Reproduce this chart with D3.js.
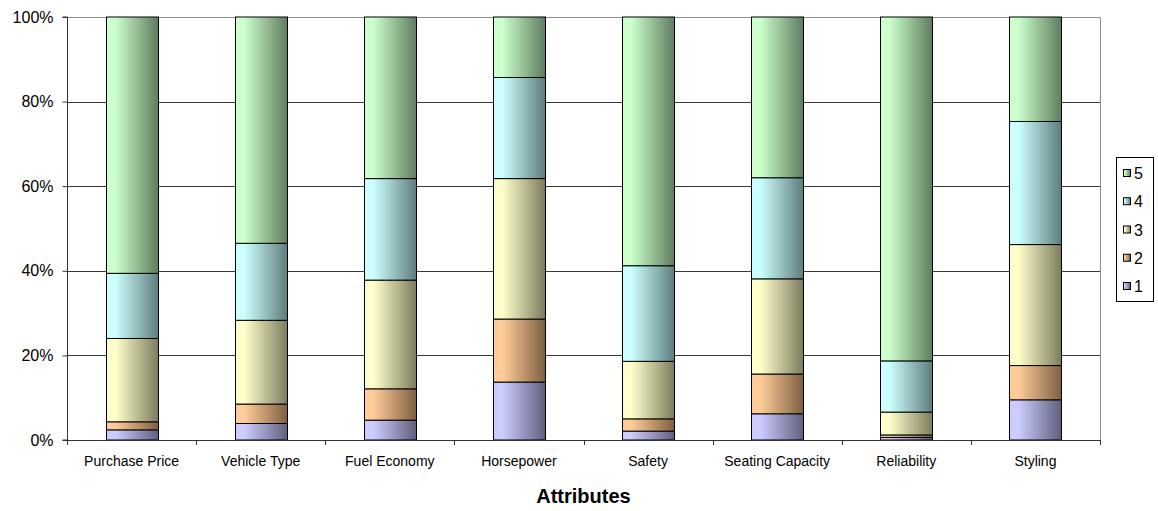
<!DOCTYPE html>
<html>
<head>
<meta charset="utf-8">
<script src="https://cdn.jsdelivr.net/npm/d3@7"></script>
<style>
  html, body { margin: 0; padding: 0; background: #fff; }
  svg { display: block; font-family: Arial, "Liberation Sans", sans-serif; }
</style>
</head>
<body>
<svg id="chart" width="1158" height="511"></svg>
<script>
// Share of respondents giving each rating (1–5) per vehicle attribute, in percent
const categories = ["Purchase Price", "Vehicle Type", "Fuel Economy", "Horsepower",
                    "Safety", "Seating Capacity", "Reliability", "Styling"];
const rating1 = [2.4, 3.9, 4.7, 13.7, 2.1, 6.2, 0.6, 9.5];
const rating2 = [1.9, 4.6, 7.4, 14.9, 2.9, 9.4, 0.6, 8.1];
const rating3 = [19.7, 19.8, 25.7, 33.2, 13.6, 22.5, 5.4, 28.6];
const rating4 = [15.4, 18.2, 24.0, 23.9, 22.6, 23.9, 12.1, 29.1];
const rating5 = [60.6, 53.5, 38.2, 14.3, 58.8, 38.0, 81.3, 24.7];
const seriesNames = ["1", "2", "3", "4", "5"];
const yTicks = [0, 0.2, 0.4, 0.6, 0.8, 1.0];
const xTitle = "Attributes";

// light / dark ends of each series' horizontal gradient
const palette = {
  "1": ["#ccccff", "#5f5f7c"],
  "2": ["#ffcc99", "#7d5f42"],
  "3": ["#ffffcc", "#7c7c5f"],
  "4": ["#ccffff", "#5f7c7c"],
  "5": ["#ccffcc", "#5f7c5f"]
};

const seriesValues = [rating1, rating2, rating3, rating4, rating5];
const rows = categories.map((c, i) => {
  const r = { category: c };
  seriesNames.forEach((s, k) => { r[s] = seriesValues[k][i]; });
  return r;
});

const svg = d3.select("#chart");
const plot = { left: 67, right: 1100, top: 17, bottom: 440 };

const x = d3.scaleBand()
  .domain(categories)
  .range([plot.left, plot.right])
  .paddingInner(0.597)
  .paddingOuter(0.2985);

const y = d3.scaleLinear().domain([0, 1]).range([plot.bottom, plot.top]);

const stack = d3.stack().keys(seriesNames).offset(d3.stackOffsetExpand);
const layers = stack(rows);

// gradients
const defs = svg.append("defs");
seriesNames.forEach(s => {
  const g = defs.append("linearGradient")
    .attr("id", "grad" + s)
    .attr("x1", "0").attr("y1", "0").attr("x2", "1").attr("y2", "0");
  g.append("stop").attr("offset", "0").attr("stop-color", palette[s][0]);
  g.append("stop").attr("offset", "0.17").attr("stop-color", palette[s][0]);
  g.append("stop").attr("offset", "1").attr("stop-color", palette[s][1]);
});

// gridlines
svg.append("g")
  .selectAll("line")
  .data(yTicks.slice(1))
  .join("line")
  .attr("x1", plot.left).attr("x2", plot.right)
  .attr("y1", d => Math.round(y(d)) + 0.5).attr("y2", d => Math.round(y(d)) + 0.5)
  .attr("stroke", "#3a3a3a")
  .attr("stroke-width", 1);

// plot area border (top and right)
svg.append("path")
  .attr("d", `M${plot.left},${plot.top + 0.5}H${plot.right + 0.5}V${plot.bottom}`)
  .attr("fill", "none")
  .attr("stroke", "#8c8c8c")
  .attr("stroke-width", 1);

// bars
svg.append("g")
  .selectAll("g")
  .data(layers)
  .join("g")
  .attr("fill", d => `url(#grad${d.key})`)
  .selectAll("rect")
  .data(d => d.map(v => ({ v, cat: v.data.category })))
  .join("rect")
  .attr("x", d => Math.round(x(d.cat)) + 0.5)
  .attr("width", Math.round(x.bandwidth()))
  .attr("y", d => y(d.v[1]))
  .attr("height", d => y(d.v[0]) - y(d.v[1]))
  .attr("stroke", "#000")
  .attr("stroke-width", 1);

// y axis
const yAxis = d3.axisLeft(y)
  .tickValues(yTicks)
  .tickFormat(d3.format(".0%"))
  .tickSize(5)
  .tickPadding(9);
const gy = svg.append("g")
  .attr("transform", `translate(${plot.left + 0.5},0)`)
  .call(yAxis);
gy.select(".domain").attr("stroke", "#333").attr("d", `M-5,${plot.top}H0V${plot.bottom}H-5`);
gy.selectAll(".tick line").attr("stroke", "#333");
gy.selectAll("text").attr("font-size", "16px").attr("fill", "#000")
  .attr("font-family", "Arial, 'Liberation Sans', sans-serif");

// x axis: ticks at category boundaries
const boundaries = categories.map(c => x(c) - x.step() * x.paddingInner() / 2).concat([plot.right]);
const gx = svg.append("g");
gx.append("line")
  .attr("x1", plot.left).attr("x2", plot.right + 0.5)
  .attr("y1", plot.bottom + 0.5).attr("y2", plot.bottom + 0.5)
  .attr("stroke", "#333");
gx.selectAll("line.tick")
  .data(boundaries)
  .join("line")
  .attr("class", "tick")
  .attr("x1", d => Math.round(d) + 0.5).attr("x2", d => Math.round(d) + 0.5)
  .attr("y1", plot.bottom).attr("y2", plot.bottom + 5)
  .attr("stroke", "#333");
gx.selectAll("text")
  .data(categories)
  .join("text")
  .attr("x", d => x(d) + x.bandwidth() / 2)
  .attr("y", 466)
  .attr("text-anchor", "middle")
  .attr("font-size", "14px")
  .attr("fill", "#000")
  .text(d => d);

// x axis title
svg.append("text")
  .attr("x", (plot.left + plot.right) / 2)
  .attr("y", 503)
  .attr("text-anchor", "middle")
  .attr("font-size", "20px")
  .attr("font-weight", "bold")
  .attr("fill", "#000")
  .text(xTitle);

// legend
const legend = svg.append("g");
legend.append("rect")
  .attr("x", 1116.5).attr("y", 157.5)
  .attr("width", 37).attr("height", 144)
  .attr("fill", "#fff").attr("stroke", "#000");
const legendItems = seriesNames.slice().reverse();
const ly = d3.scalePoint().domain(legendItems).range([173, 286]);
const li = legend.selectAll("g.item")
  .data(legendItems)
  .join("g")
  .attr("class", "item")
  .attr("transform", d => `translate(0,${ly(d)})`);
li.append("rect")
  .attr("x", 1123.5).attr("y", -3.5)
  .attr("width", 7).attr("height", 7)
  .attr("fill", d => `url(#grad${d})`)
  .attr("stroke", "#000");
li.append("text")
  .attr("x", 1134)
  .attr("y", 6)
  .attr("font-size", "16px")
  .attr("fill", "#000")
  .text(d => d);
</script>
</body>
</html>
